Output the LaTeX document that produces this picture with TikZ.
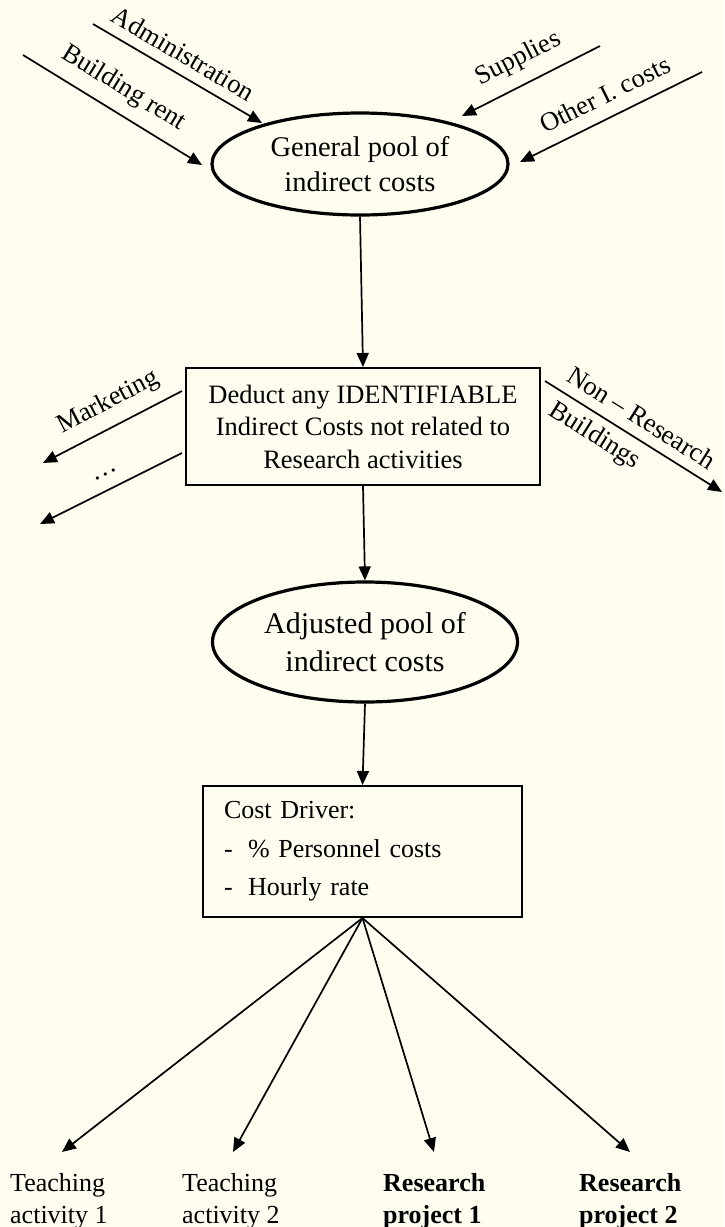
\documentclass[tikz,border=0pt]{standalone}
\usepackage{fontspec}
\setmainfont{Liberation Serif}
\usetikzlibrary{shapes.geometric,arrows.meta}
\definecolor{bgcol}{RGB}{255,253,240}
\begin{document}
\begin{tikzpicture}[x=1pt,y=-1pt,
  conn/.style={line width=1.7pt,-{Triangle[length=14pt,width=12pt]}},
  pool/.style={ellipse,draw,line width=3.2pt,inner sep=0pt,align=center},
  stepbox/.style={draw,line width=2pt,inner sep=0pt},
  lbl/.style={font=\fontsize{26.5}{28}\selectfont,inner sep=0pt},
  leaf/.style={align=left,anchor=north west,font=\fontsize{26}{32}\selectfont,inner sep=0pt}]
\fill[bgcol] (0,0) rectangle (724,1227);
\useasboundingbox (0,0) rectangle (724,1227);

% main nodes
\node[pool,minimum width=296pt,minimum height=102pt,font=\fontsize{28.5}{35}\selectfont] (e1) at (360,164) {General pool of\\indirect costs};
\node[stepbox,minimum width=354pt,minimum height=117pt,align=center,font=\fontsize{26.5}{32.5}\selectfont] (b1) at (363,426.5) {Deduct any IDENTIFIABLE\\Indirect Costs not related to\\Research activities};
\node[pool,minimum width=305pt,minimum height=120pt,font=\fontsize{30}{38.5}\selectfont] (e2) at (365,642) {Adjusted pool of\\indirect costs};
\node[stepbox,text width=277pt,inner xsep=21pt,minimum height=131pt,align=left,font=\fontsize{26}{38.5}\selectfont] (b2) at (362.5,851.5) {Cost Driver:\\\makebox[24pt][l]{-}\% Personnel costs\\\makebox[24pt][l]{-}Hourly rate};

% leaves
\node[leaf] (t1) at (10,1173) {Teaching\\activity 1};
\node[leaf] (t2) at (182,1173) {Teaching\\activity 2};
\node[leaf,font=\bfseries\fontsize{26}{32}\selectfont] (r1) at (383,1173) {Research\\project 1};
\node[leaf,font=\bfseries\fontsize{26}{32}\selectfont] (r2) at (579,1173) {Research\\project 2};

% input coordinates
\coordinate (adm0) at (93,24);  \coordinate (adm1) at (262,123);
\coordinate (bld0) at (23,55);  \coordinate (bld1) at (202,165);
\coordinate (sup0) at (600,46); \coordinate (sup1) at (462,116);
\coordinate (oth0) at (702,72); \coordinate (oth1) at (520,162);
\coordinate (mk0) at (182,391); \coordinate (mk1) at (43,463);
\coordinate (dt0) at (182,453); \coordinate (dt1) at (40,524);
\coordinate (nr0) at (545,381); \coordinate (nr1) at (722,492);
\coordinate (t1tip) at (62,1152);
\coordinate (t2tip) at (233,1152);
\coordinate (r1tip) at (434,1152);
\coordinate (r2tip) at (630,1152);

% arrow labels
\node[lbl,rotate=-30.4] (ladm) at (183.5,53.5) {Administration};
\node[lbl,rotate=-31.6] (lbld) at (123.5,88.5) {Building rent};
\node[lbl,rotate=26.9] (lsup) at (518.6,59.3) {Supplies};
\node[lbl,rotate=26.3] (loth) at (604.7,94.3) {Other I. costs};
\node[lbl,rotate=27.4] (lmk) at (108.6,402.3) {Marketing};
\node[lbl,rotate=26.6] (ldt) at (106,474) {\dots};
\node[lbl,rotate=-32.1] (lnr) at (641.6,417.5) {Non -- Research};
\node[lbl,rotate=-32.1] (lbu) at (594.4,436.5) {Buildings};

% inputs
\draw[conn] (adm0) -- (adm1);
\draw[conn] (bld0) -- (bld1);
\draw[conn] (sup0) -- (sup1);
\draw[conn] (oth0) -- (oth1);

% main flow
\draw[conn] (e1.south) -- (b1.north);
\draw[conn] (b1.south) -- (e2.north);
\draw[conn] (e2.south) -- (b2.north);

% deductions
\draw[conn] (mk0) -- (mk1);
\draw[conn] (dt0) -- (dt1);
\draw[conn] (nr0) -- (nr1);

% allocation
\draw[conn] (b2.south) -- (t1tip);
\draw[conn] (b2.south) -- (t2tip);
\draw[conn] (b2.south) -- (r1tip);
\draw[conn] (b2.south) -- (r2tip);
\end{tikzpicture}
\end{document}
